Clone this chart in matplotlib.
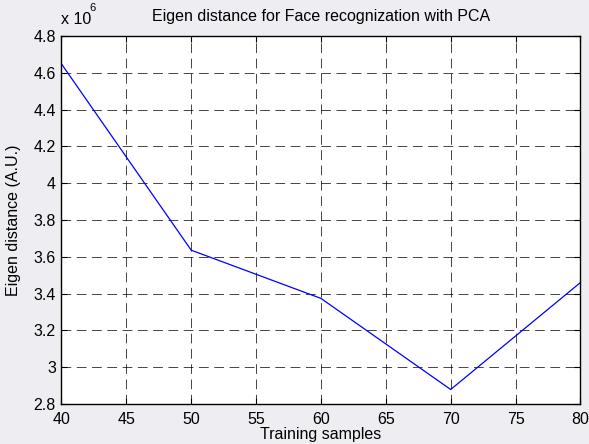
import matplotlib
matplotlib.use("Agg")
import matplotlib.pyplot as plt
from matplotlib.ticker import FuncFormatter

plt.rcParams['font.family'] = ['Liberation Sans', 'DejaVu Sans']
plt.rcParams['lines.scale_dashes'] = False

# Data
training_samples = [40, 50, 60, 70, 80]
eigen_distance = [4.648e6, 3.636e6, 3.374e6, 2.879e6, 3.46e6]
x_ticks = [40, 45, 50, 55, 60, 65, 70, 75, 80]
y_ticks = [2.8, 3.0, 3.2, 3.4, 3.6, 3.8, 4.0, 4.2, 4.4, 4.6, 4.8]

title = "Eigen distance for Face recognization with PCA"
xlabel = "Training samples"
ylabel = "Eigen distance (A.U.)"

scale = 1e6
fs = 11.5
fig = plt.figure(figsize=(5.89, 4.44), dpi=100, facecolor='#eeeef2')
ax = fig.add_axes([0.1044, 0.090, 0.881, 0.829])
ax.set_facecolor('white')

ax.plot(training_samples, [v / scale for v in eigen_distance], color='#0000ff', lw=0.9)

ax.set_xlim(40, 80)
ax.set_ylim(2.8, 4.8)
ax.set_xticks(x_ticks)
ax.set_yticks(y_ticks)
ax.yaxis.set_major_formatter(FuncFormatter(lambda v, p: f"{v:g}"))
ax.xaxis.set_major_formatter(FuncFormatter(lambda v, p: f"{v:g}"))

ax.grid(True, color='black', linestyle=(0, (7, 4)), linewidth=0.6, alpha=0.85)
ax.tick_params(direction='in', length=4, width=0.8, top=True, right=True,
               labelsize=fs, colors='black')
ax.tick_params(axis='x', pad=6)
ax.tick_params(axis='y', pad=4)
for s in ax.spines.values():
    s.set_linewidth(1.0)
    s.set_color('black')

ax.set_title(title, fontsize=fs, pad=11)
ax.set_xlabel(xlabel, fontsize=fs, labelpad=0)
ax.set_ylabel(ylabel, fontsize=fs, labelpad=9)

ax.text(0.0, 1.025, "x 10", transform=ax.transAxes, fontsize=fs, ha='left', va='bottom')
ax.text(0.054, 1.062, "6", transform=ax.transAxes, fontsize=8, ha='left', va='bottom')

fig.savefig("out.png", dpi=100, facecolor=fig.get_facecolor())
